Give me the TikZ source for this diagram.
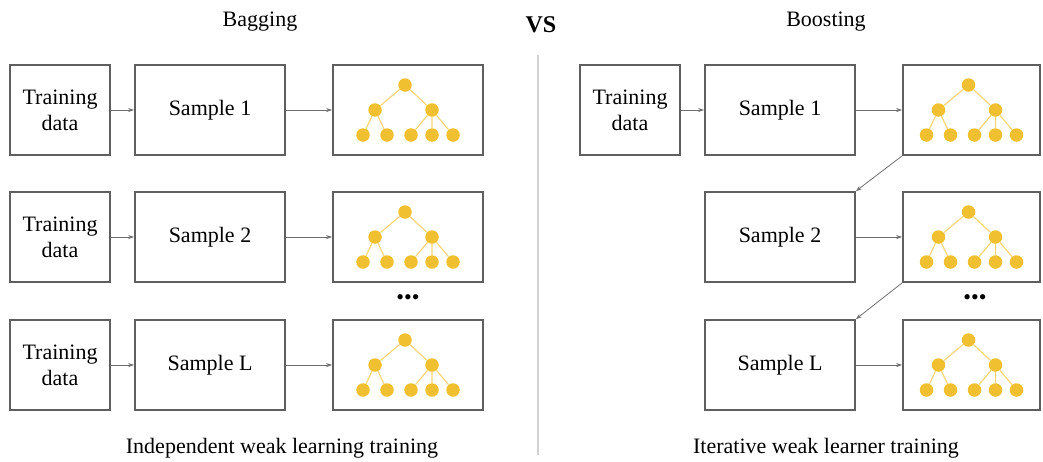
\documentclass[tikz,border=0pt]{standalone}
\usepackage{fontspec}
\setmainfont{Liberation Serif}
\usetikzlibrary{arrows.meta,positioning}
\definecolor{treegold}{RGB}{240,192,48}
\definecolor{boxgray}{RGB}{95,95,95}
\tikzset{
    component/.style={
    rectangle,draw=boxgray,line width=1.6pt,align=center,
    font=\fontsize{22}{26}\selectfont,inner sep=0pt
    },
    smallcp/.style={
    component,minimum width=100pt,minimum height=90pt
    },
    samplecp/.style={
    component,minimum width=150pt,minimum height=90pt
    },
    treecp/.style={
    component,minimum width=150pt,minimum height=90pt
    },
    dot/.style={
    circle,fill=treegold,inner sep=0pt,minimum size=13.5pt
    },
    branch/.style={
    draw=treegold!65,line width=1.2pt
    },
    flow/.style={
    ->,>={Stealth[length=6pt,width=4pt]},draw=boxgray!90,line width=0.8pt
    },
    caption/.style={
    font=\fontsize{22}{26}\selectfont
    },
}
\newcommand{\weaktree}[1]{%
  \begin{scope}[shift={(#1.center)}]
    \node[dot] (#1-r) at (-3,-25) {};
    \node[dot] (#1-a) at (-33,0) {};
    \node[dot] (#1-b) at (24,0) {};
    \foreach \x/\n in {-45/1,-21/2,3/3,24/4,45/5}
      \node[dot] (#1-l\n) at (\x,25) {};
    \draw[branch] (#1-r) -- (#1-a) (#1-r) -- (#1-b)
      (#1-a) -- (#1-l1) (#1-a) -- (#1-l2)
      (#1-b) -- (#1-l3) (#1-b) -- (#1-l4) (#1-b) -- (#1-l5);
  \end{scope}}

\begin{document}
\begin{tikzpicture}[x=1pt,y=-1pt,node distance=127pt and 150pt,on grid]
  \useasboundingbox (0,0) rectangle (1043,461);
  % bagging
  \node[caption] (bagtitle) at (260,22) {Bagging};
  \foreach \i/\y/\s in {1/110/1,2/237/2,3/365/L}{
    \node[smallcp] (bdata\i) at (60,\y) {Training\\data};
    \node[samplecp] (bsample\i) [right=of bdata\i] {Sample \s};
    \node[treecp] (btree\i) [right=198pt of bsample\i] {};
    \weaktree{btree\i}
    \draw[flow] (bdata\i) -- (bsample\i);
    \draw[flow] (bsample\i) -- (btree\i);
  }
  \node[font=\fontsize{22}{26}\selectfont] (bdots) at (408,300) {•••};
  \node[caption] (bagnote) at (282,448) {Independent weak learning training};

  % divider
  \node[font=\fontsize{24}{28}\selectfont\bfseries] (vs) at (541,25) {VS};
  \coordinate (divtop) at (538,55);
  \coordinate (divbot) at (538,455);
  \draw[gray!35,line width=1.5pt] (divtop) -- (divbot);

  % boosting
  \node[caption] (boosttitle) at (826,22) {Boosting};
  \node[smallcp] (rdata) at (630,110) {Training\\data};
  \foreach \i/\y/\s in {1/110/1,2/237/2,3/365/L}{
    \node[samplecp] (rsample\i) at (780,\y) {Sample \s};
    \node[treecp,minimum width=137pt] (rtree\i) [right=191.5pt of rsample\i] {};
    \weaktree{rtree\i}
    \draw[flow] (rsample\i) -- (rtree\i);
  }
  \draw[flow] (rdata) -- (rsample1);
  \draw[flow] (rtree1.south west) -- (rsample2.north east);
  \draw[flow] (rtree2.south west) -- (rsample3.north east);
  \node[font=\fontsize{22}{26}\selectfont] (rdots) at (975,300) {•••};
  \node[caption] (boostnote) at (826,448) {Iterative weak learner training};
\end{tikzpicture}
\end{document}
